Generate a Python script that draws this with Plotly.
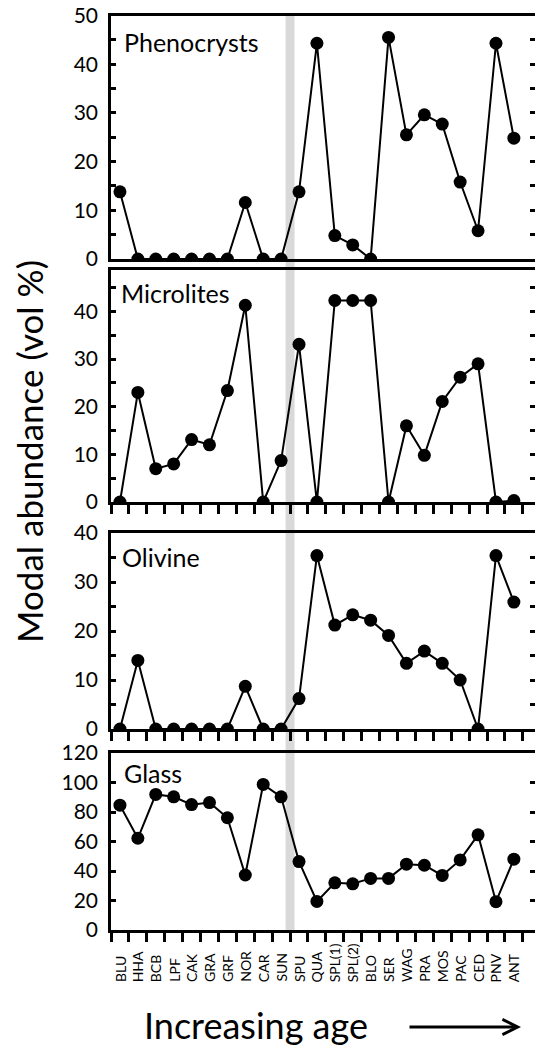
import plotly.graph_objects as go

sites = ["BLU", "HHA", "BCB", "LPF", "CAK", "GRA", "GRF", "NOR", "CAR", "SUN", "SPU", "QUA",
         "SPL(1)", "SPL(2)", "BLO", "SER", "WAG", "PRA", "MOS", "PAC", "CED", "PNV", "ANT"]

phenocrysts = [13.8, 0, 0, 0, 0, 0, 0, 11.6, 0, 0, 13.8, 44.3, 4.8, 2.9, 0, 45.5,
               25.5, 29.6, 27.7, 15.8, 5.8, 44.3, 24.8]
microlites = [0, 23.0, 7.0, 8.0, 13.1, 12.0, 23.4, 41.3, 0, 8.7, 33.1, 0, 42.3, 42.3, 42.3, 0,
              16.0, 9.8, 21.1, 26.2, 29.0, 0, 0.3]
olivine = [0, 14.0, 0, 0, 0, 0, 0, 8.7, 0, 0, 6.2, 35.4, 21.2, 23.3, 22.2, 19.1,
           13.4, 15.9, 13.4, 10.0, 0, 35.4, 25.9]
glass = [84.6, 62.2, 91.9, 90.3, 85.0, 86.4, 76.1, 37.3, 98.7, 90.3, 46.4, 19.4, 32.0, 31.3,
         35.0, 35.0, 44.6, 43.9, 37.0, 47.5, 64.5, 19.2, 48.0]

panel_names = ["Phenocrysts", "Microlites", "Olivine", "Glass"]
series = [phenocrysts, microlites, olivine, glass]
y_ranges = [[0, 50], [0, 48.7], [0, 40], [0, 120]]
y_dticks = [10, 10, 10, 20]
y_minor = [5, 5, 5, None]

H = 1048.0
W = 535.0
px_dom = [(15.5, 259), (270, 502), (533, 729), (753, 930)]
label_pos = [(122, 42), (119, 293), (120, 557), (122, 773)]
x_left = 111.0
FONT = "Lato"

fig = go.Figure()
layout = dict(
    width=535, height=1048,
    margin=dict(l=0, r=0, t=0, b=0),
    paper_bgcolor="white", plot_bgcolor="white",
    showlegend=False,
    font=dict(family=FONT, color="black"),
)
annotations = []
shapes = []

for i in range(4):
    n = i + 1
    xa = "x" if n == 1 else f"x{n}"
    ya = "y" if n == 1 else f"y{n}"
    yr = f"y{n+4}"
    fig.add_trace(go.Scatter(
        x=sites, y=series[i], xaxis=xa, yaxis=ya, mode="lines+markers",
        line=dict(color="black", width=2),
        marker=dict(color="black", size=13),
        hoverinfo="x+y",
    ))
    fig.add_trace(go.Scatter(
        x=sites, y=series[i], xaxis=xa, yaxis=yr, mode="markers",
        marker=dict(opacity=0), hoverinfo="skip",
    ))
    top, bot = px_dom[i]
    dom = [1 - bot / H, 1 - top / H]
    layout["xaxis" if n == 1 else f"xaxis{n}"] = dict(
        domain=[x_left / W, 1], anchor=ya,
        type="category", categoryorder="array", categoryarray=sites,
        range=[-0.5, 23.18], tickson="boundaries",
        ticks="" if n == 1 else "outside", ticklen=9, tickwidth=2.5, tickcolor="black",
        showticklabels=False, showline=True, linecolor="black", linewidth=2.5,
        mirror=True, showgrid=False, zeroline=False, fixedrange=True,
    )
    ydict = dict(
        domain=dom, anchor=xa, range=y_ranges[i], dtick=y_dticks[i], tick0=0,
        ticks="inside", ticklen=5, tickwidth=2.5, tickcolor="black",
        showline=True, linecolor="black", linewidth=2.5, mirror=False,
        showgrid=False, zeroline=False, tickfont=dict(family=FONT, size=21, color="black"),
        ticklabelstandoff=6, automargin=False,
    )
    if y_minor[i]:
        ydict["minor"] = dict(dtick=y_minor[i], tick0=0, ticks="inside", ticklen=5,
                              tickwidth=2.5, tickcolor="black", showgrid=False)
    layout["yaxis" if n == 1 else f"yaxis{n}"] = ydict
    layout[f"yaxis{n+4}"] = dict(
        overlaying=ya, side="right", anchor=xa, range=y_ranges[i],
        dtick=y_minor[i] if y_minor[i] else y_dticks[i], tick0=0,
        ticks="inside", ticklen=5, tickwidth=2.5, tickcolor="black",
        showticklabels=False, showline=False, showgrid=False, zeroline=False,
    )
    lx, ly = label_pos[i]
    annotations.append(dict(
        text=panel_names[i], xref="paper", yref="paper",
        x=lx / W, y=1 - ly / H, xanchor="left", yanchor="middle",
        showarrow=False, font=dict(family=FONT, size=25, color="black"),
    ))

for s in sites:
    annotations.append(dict(
        text=s, xref="x4", yref="paper", x=s, y=1 - 984 / H,
        xanchor="center", yanchor="bottom", textangle=-90, showarrow=False,
        font=dict(family=FONT, size=14, color="black"),
    ))

annotations.append(dict(
    text="Modal abundance (vol %)", xref="paper", yref="paper",
    x=29 / W, y=1 - 452 / H, xanchor="center", yanchor="middle",
    textangle=-90, showarrow=False, font=dict(family=FONT, size=35, color="black"),
))
annotations.append(dict(
    text="Increasing age", xref="paper", yref="paper",
    x=142 / W, y=1 - 1025 / H, xanchor="left", yanchor="middle",
    showarrow=False, font=dict(family=FONT, size=36, color="black"),
))
annotations.append(dict(
    text="", xref="paper", yref="paper", axref="pixel", ayref="pixel",
    x=521 / W, y=1 - 1027 / H, ax=-113, ay=0,
    showarrow=True, arrowhead=5, arrowsize=1, arrowwidth=3, arrowcolor="black",
))

shapes.append(dict(
    type="rect", xref="x", yref="paper", x0=9.25, x1=9.75,
    y0=1 - 930 / H, y1=1 - 15.5 / H, fillcolor="#d9d9d9", line=dict(width=0),
    layer="below",
))

layout["annotations"] = annotations
layout["shapes"] = shapes
fig.update_layout(**layout)
fig.write_html("out.html")
